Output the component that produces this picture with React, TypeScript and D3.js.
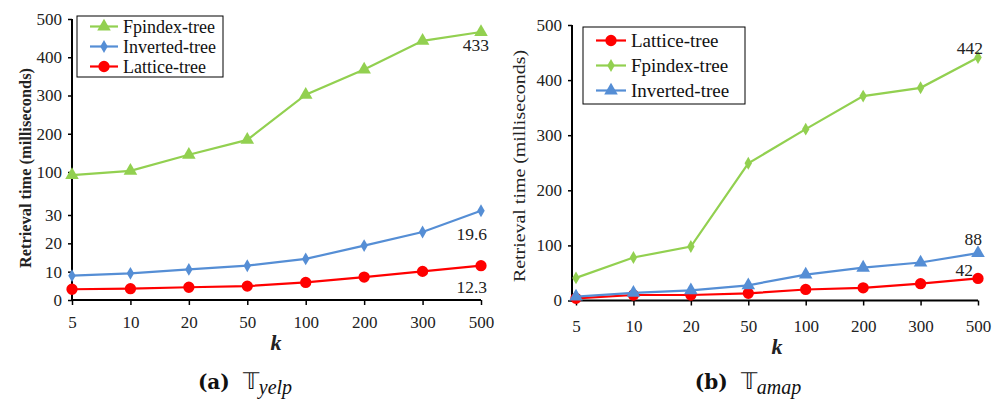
import { useEffect, useRef } from 'react'
import * as d3 from 'd3'

// k values on the x axis
const categories = ['5', '10', '20', '50', '100', '200', '300', '500']

// (a) yelp
const yelpFpindex = [95, 103, 145, 184, 302, 368, 443, 466]
const yelpInverted = [8.6, 9.4, 10.8, 12.1, 14.5, 19.2, 24, 37]
const yelpLattice = [3.8, 4.0, 4.5, 4.9, 6.2, 8.1, 10.1, 12.1]
const yelpTicks = [0, 10, 20, 30, 100, 200, 300, 400, 500]
const yelpBreaks = [0, 30, 100, 500]
const yelpLabels = ['433', '19.6', '12.3']

// (b) amap
const amapLattice = [4, 10, 10, 13, 20, 23, 30.5, 40]
const amapFpindex = [41, 78, 98, 249, 311, 371, 386, 441]
const amapInverted = [7, 14, 18.5, 27.6, 47, 59.5, 69, 86]
const amapTicks = [0, 100, 200, 300, 400, 500]
const amapLabels = ['42', '442', '88']

const GREEN = '#92D050'
const BLUE = '#558ED5'
const RED = '#FF0000'
const SERIF = '"Liberation Serif", "Times New Roman", serif'

type Marker = 'triangle' | 'diamond' | 'circle'

interface Series {
  name: string
  values: number[]
  color: string
  marker: Marker
  label: string
  labelDx: number
  labelDy: number
}

function markerPath(m: Marker) {
  if (m === 'triangle') return d3.symbol(d3.symbolTriangle, 80)()
  if (m === 'diamond') return d3.symbol(d3.symbolDiamond, 48)()
  return d3.symbol(d3.symbolCircle, 100)()
}

interface ChartCfg {
  series: Series[]
  x: d3.ScalePoint<string>
  y: d3.ScaleLinear<number, number>
  axisX: number
  ticks: number[]
  xPad: number
  yTitle: { x: number; y: number; size: number; len: number; bold: boolean }
  kPos: [number, number]
  legend: { x: number; y: number; w: number; h: number; gap: number; size: number; lineLen: number }
  caption: { x: number; y: number; tag: string; sub: string }
}

function drawChart(svg: d3.Selection<SVGSVGElement, unknown, null, undefined>, c: ChartCfg) {
  const g = svg.append('g')
  const [y0] = c.y.range()
  const yTop = c.y.range()[c.y.range().length - 1]
  const xr = c.x.range()

  // y axis
  const yAxis = d3
    .axisLeft(c.y)
    .tickValues(c.ticks)
    .tickSize(4)
    .tickSizeOuter(0)
    .tickPadding(6)
  const ya = g.append('g').attr('transform', `translate(${c.axisX},0)`).call(yAxis)
  ya.select('.domain').remove()
  ya.selectAll('line').attr('stroke', '#000').attr('stroke-width', 1.5)
  ya.selectAll('text').style('font-family', SERIF).style('font-size', '17px').attr('fill', '#222')
  g.append('line')
    .attr('x1', c.axisX).attr('x2', c.axisX)
    .attr('y1', yTop).attr('y2', y0 + 1)
    .attr('stroke', '#000').attr('stroke-width', 2)

  // x axis
  const xAxis = d3.axisBottom(c.x).tickSize(5).tickSizeOuter(0).tickPadding(c.xPad)
  const xa = g.append('g').attr('transform', `translate(0,${y0})`).call(xAxis)
  xa.select('.domain').remove()
  xa.selectAll('line').attr('stroke', '#000').attr('stroke-width', 1.5)
  xa.selectAll('text').style('font-family', SERIF).style('font-size', '17px').attr('fill', '#222')
  g.append('line')
    .attr('x1', c.axisX).attr('x2', xr[1])
    .attr('y1', y0).attr('y2', y0)
    .attr('stroke', '#000').attr('stroke-width', 2)

  // y title
  const t = c.yTitle
  g.append('text')
    .attr('transform', `translate(${t.x},${t.y}) rotate(-90)`)
    .attr('text-anchor', 'middle')
    .attr('dy', '0.35em')
    .style('font-family', SERIF)
    .style('font-size', `${t.size}px`)
    .style('font-weight', t.bold ? 700 : 400)
    .attr('fill', '#222')
    .attr('textLength', t.len)
    .attr('lengthAdjust', 'spacingAndGlyphs')
    .text('Retrieval time (milliseconds)')

  // k
  g.append('text')
    .attr('x', c.kPos[0]).attr('y', c.kPos[1])
    .attr('text-anchor', 'middle')
    .style('font-family', SERIF)
    .style('font-size', '22px')
    .style('font-weight', 700)
    .style('font-style', 'italic')
    .attr('fill', '#222')
    .text('k')

  // lines + markers
  const line = d3
    .line<number>()
    .x((_, i) => c.x(categories[i]) as number)
    .y((d) => c.y(d))

  c.series.forEach((s) => {
    g.append('path')
      .attr('d', line(s.values))
      .attr('fill', 'none')
      .attr('stroke', s.color)
      .attr('stroke-width', 2.2)

    g.selectAll(null)
      .data(s.values)
      .enter()
      .append('path')
      .attr('d', markerPath(s.marker))
      .attr('transform', (d, i) => `translate(${c.x(categories[i])},${c.y(d)})`)
      .attr('fill', s.color)
  })

  // value labels at k = 500
  c.series.forEach((s) => {
    const last = s.values[s.values.length - 1]
    g.append('text')
      .attr('x', (c.x(categories[categories.length - 1]) as number) + s.labelDx)
      .attr('y', c.y(last) + s.labelDy)
      .attr('text-anchor', 'end')
      .style('font-family', SERIF)
      .style('font-size', '17.5px')
      .attr('fill', '#222')
      .text(s.label)
  })

  // legend
  const L = c.legend
  const lg = g.append('g').attr('transform', `translate(${L.x},${L.y})`)
  lg.append('rect')
    .attr('width', L.w).attr('height', L.h)
    .attr('fill', '#fff').attr('stroke', '#000').attr('stroke-width', 1)
  c.series.forEach((s, i) => {
    const cy = (L.h - L.gap * (c.series.length - 1)) / 2 + i * L.gap
    const row = lg.append('g').attr('transform', `translate(13,${cy})`)
    row.append('line')
      .attr('x1', 0).attr('x2', L.lineLen)
      .attr('stroke', s.color).attr('stroke-width', 2.2)
    row.append('path')
      .attr('d', markerPath(s.marker))
      .attr('transform', `translate(${L.lineLen / 2},0)`)
      .attr('fill', s.color)
    row.append('text')
      .attr('x', L.lineLen + 5)
      .attr('dy', '0.35em')
      .style('font-family', SERIF)
      .style('font-size', `${L.size}px`)
      .attr('fill', '#111')
      .text(s.name)
  })

  // caption
  const cap = c.caption
  const ct = g.append('text')
    .attr('x', cap.x).attr('y', cap.y)
    .attr('text-anchor', 'middle')
    .attr('fill', '#111')
  ct.append('tspan')
    .style('font-family', '"DejaVu Serif", serif')
    .style('font-weight', 700)
    .style('font-size', '20px')
    .text(cap.tag)
  ct.append('tspan')
    .style('font-family', SERIF)
    .style('font-size', '23px')
    .attr('dx', 13)
    .text('\u{1D54B}')
  ct.append('tspan')
    .style('font-family', SERIF)
    .style('font-style', 'italic')
    .style('font-size', '20px')
    .attr('dy', 5)
    .text(cap.sub)
}

export default function App() {
  const svgRef = useRef<SVGSVGElement>(null)

  useEffect(() => {
    if (!svgRef.current) return
    const svg = d3.select(svgRef.current)
    svg.selectAll('*').remove()

    // (a) - broken y scale: 0..30 stretched, 100..500 compressed
    const xA = d3.scalePoint<string>().domain(categories).range([72, 481])
    const yA = d3.scaleLinear().domain(yelpBreaks).range([300, 215, 172, 19])
    drawChart(svg, {
      series: [
        { name: 'Fpindex-tree', values: yelpFpindex, color: GREEN, marker: 'triangle', label: yelpLabels[0], labelDx: 8, labelDy: 19 },
        { name: 'Inverted-tree', values: yelpInverted, color: BLUE, marker: 'diamond', label: yelpLabels[1], labelDx: 6, labelDy: 29 },
        { name: 'Lattice-tree', values: yelpLattice, color: RED, marker: 'circle', label: yelpLabels[2], labelDx: 6, labelDy: 27 },
      ],
      x: xA,
      y: yA,
      axisX: 72,
      ticks: yelpTicks,
      xPad: 11,
      yTitle: { x: 25, y: 168, size: 16, len: 200, bold: true },
      kPos: [276, 350],
      legend: { x: 77, y: 16, w: 146, h: 61, gap: 20, size: 18, lineLen: 28 },
      caption: { x: 245, y: 389, tag: '(a)', sub: 'yelp' },
    })

    // (b)
    const xB = d3.scalePoint<string>().domain(categories).range([576, 978])
    const yB = d3.scaleLinear().domain([0, 500]).range([300.5, 25])
    drawChart(svg, {
      series: [
        { name: 'Lattice-tree', values: amapLattice, color: RED, marker: 'circle', label: amapLabels[0], labelDx: -5, labelDy: -2 },
        { name: 'Fpindex-tree', values: amapFpindex, color: GREEN, marker: 'diamond', label: amapLabels[1], labelDx: 5, labelDy: -4 },
        { name: 'Inverted-tree', values: amapInverted, color: BLUE, marker: 'triangle', label: amapLabels[2], labelDx: 4, labelDy: -8 },
      ],
      x: xB,
      y: yB,
      axisX: 572,
      ticks: amapTicks,
      xPad: 14,
      yTitle: { x: 519, y: 166, size: 17, len: 232, bold: false },
      kPos: [777, 354],
      legend: { x: 583, y: 27, w: 162, h: 77, gap: 25, size: 19, lineLen: 30 },
      caption: { x: 748, y: 389, tag: '(b)', sub: 'amap' },
    })
  }, [])

  return (
    <div style={{ position: 'absolute', left: 0, top: 0 }}>
      <svg ref={svgRef} width={1000} height={399} style={{ display: 'block', background: '#fff' }} />
    </div>
  )
}
